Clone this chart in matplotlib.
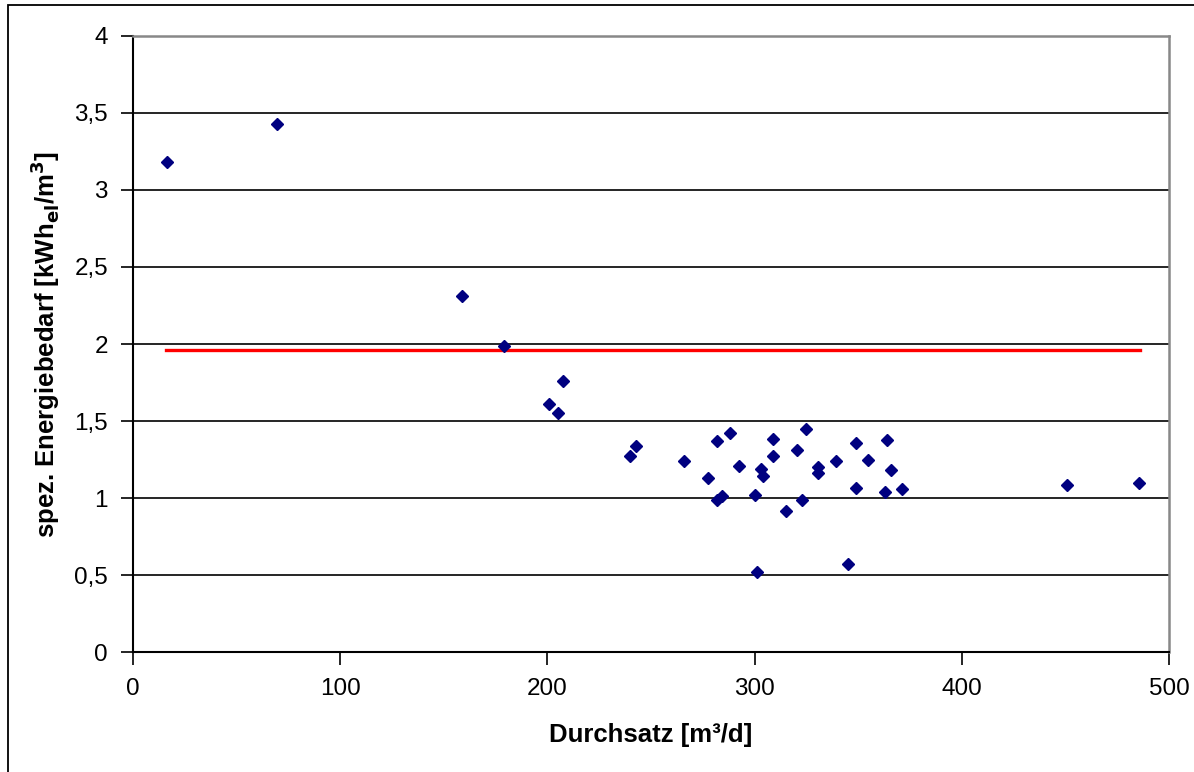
import matplotlib
matplotlib.use("Agg")
import matplotlib.pyplot as plt
from matplotlib.patches import Rectangle
from matplotlib.ticker import FuncFormatter

plt.rcParams['font.family'] = ['Liberation Sans', 'DejaVu Sans']

# measured plants: throughput [m3/d] and specific energy demand [kWh_el/m3]
durchsatz = [16.4, 69.6, 158.6, 178.9, 201.0, 204.9, 207.6, 239.7, 242.7, 265.8,
             277.6, 281.7, 281.7, 284.5, 288.2, 292.5, 300.1, 301.0, 303.3, 303.9,
             309.0, 309.0, 315.1, 320.4, 322.8, 324.7, 330.8, 330.8, 339.3, 345.1,
             349.1, 349.1, 354.9, 363.0, 364.1, 366.0, 371.2, 450.7, 485.5]
energie = [3.18, 3.43, 2.31, 1.99, 1.61, 1.55, 1.76, 1.275, 1.34, 1.24,
           1.13, 1.37, 0.99, 1.015, 1.42, 1.21, 1.02, 0.52, 1.19, 1.145,
           1.385, 1.27, 0.915, 1.31, 0.985, 1.445, 1.20, 1.16, 1.24, 0.57,
           1.355, 1.065, 1.25, 1.04, 1.375, 1.18, 1.06, 1.085, 1.10]

# mean line
mittel_x = [16, 486]
mittel_y = [1.96, 1.96]

fig = plt.figure(figsize=(11.94, 7.72), dpi=100)
ax = fig.add_axes([0.1114, 0.1554, 0.8676, 0.798])

# outer chart border (cut off at right and bottom like the screenshot)
fig.patches.append(Rectangle((8 / 1194, -0.05), 1.1, 0.05 + 1 - 5 / 772,
                             transform=fig.transFigure, fill=False,
                             edgecolor='black', linewidth=1.3))

ax.plot(mittel_x, mittel_y, color='red', linewidth=2.4, zorder=3)
ax.plot(durchsatz, energie, linestyle='none', marker='D', markersize=6.5,
        color='#000080', zorder=4)

ax.set_xlim(0, 500)
ax.set_ylim(0, 4)
ax.set_xticks([0, 100, 200, 300, 400, 500])
ax.set_yticks([0, 0.5, 1, 1.5, 2, 2.5, 3, 3.5, 4])
ax.yaxis.set_major_formatter(FuncFormatter(lambda v, p: f"{v:g}".replace('.', ',')))
ax.grid(axis='y', color='black', linewidth=1.2)
ax.set_axisbelow(True)

ax.tick_params(direction='out', length=9, width=1.2, labelsize=17.5, colors='black')
ax.tick_params(axis='x', pad=10)
ax.tick_params(axis='y', pad=9)

ax.spines['left'].set_linewidth(1.5)
ax.spines['bottom'].set_linewidth(1.5)
for s in ('top', 'right'):
    ax.spines[s].set_color('#888888')
    ax.spines[s].set_linewidth(1.8)

ax.set_xlabel('Durchsatz [m³/d]', fontsize=18.5, fontweight='bold', labelpad=16)
ax.set_ylabel('spez. Energiebedarf [kWh$_{\\mathbf{el}}$/m$^{\\mathbf{3}}$]',
              fontsize=18.5, fontweight='bold', labelpad=9)

fig.savefig('out.png', dpi=100)
